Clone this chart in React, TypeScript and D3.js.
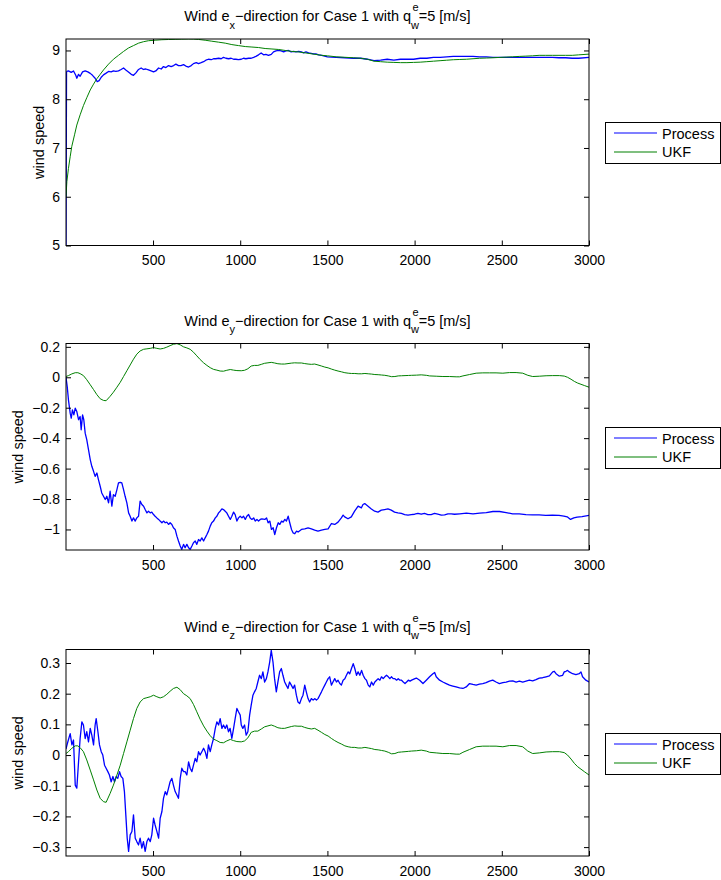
import React, { useEffect, useRef } from 'react';
import * as d3 from 'd3';

const font = 'Liberation Sans, Arial, Helvetica, sans-serif';

// x axis is shared by all three panels
const xDomain = [1, 3000];
const xTicks = [500, 1000, 1500, 2000, 2500, 3000];

const yTicksX = [5, 6, 7, 8, 9];
const yTicksY = [-1, -0.8, -0.6, -0.4, -0.2, 0, 0.2];
const yTicksZ = [-0.3, -0.2, -0.1, 0, 0.1, 0.2, 0.3];

const yDomainX = [5, 9.235];
const yDomainY = [-1.135, 0.222];
const yDomainZ = [-0.329, 0.344];

// [time, wind speed]
const processX = [
  [1, 5], [4, 8.55], [6, 8.57], [15, 8.58], [31, 8.55], [44, 8.58], [57, 8.49], [63, 8.43], [73, 8.51], [82, 8.47],
  [96, 8.56], [111, 8.58], [126, 8.56], [140, 8.53], [153, 8.49], [168, 8.43], [180, 8.36], [191, 8.38], [203, 8.45],
  [216, 8.5], [229, 8.53], [245, 8.57], [260, 8.56], [273, 8.58], [287, 8.57], [302, 8.58], [317, 8.61], [331, 8.64],
  [344, 8.6], [359, 8.56], [375, 8.51], [388, 8.49], [402, 8.54], [417, 8.61], [432, 8.64], [445, 8.61], [459, 8.62],
  [474, 8.6], [489, 8.58], [503, 8.56], [516, 8.58], [532, 8.64], [547, 8.62], [560, 8.67], [574, 8.65], [589, 8.69],
  [604, 8.67], [618, 8.69], [631, 8.72], [646, 8.69], [660, 8.69], [675, 8.71], [688, 8.68], [704, 8.66], [719, 8.69],
  [732, 8.73], [748, 8.75], [761, 8.73], [776, 8.75], [790, 8.77], [803, 8.8], [818, 8.82], [834, 8.81], [847, 8.83],
  [860, 8.83], [876, 8.84], [891, 8.83], [904, 8.86], [918, 8.84], [933, 8.83], [948, 8.84], [962, 8.82], [975, 8.82],
  [990, 8.81], [1006, 8.82], [1019, 8.84], [1032, 8.83], [1048, 8.84], [1063, 8.84], [1077, 8.86], [1090, 8.88],
  [1105, 8.91], [1120, 8.95], [1134, 8.91], [1147, 8.92], [1162, 8.9], [1178, 8.92], [1191, 8.97], [1205, 8.99],
  [1220, 9.0], [1235, 8.99], [1249, 8.97], [1262, 8.99], [1277, 9.0], [1292, 8.97], [1306, 8.98], [1319, 8.97],
  [1335, 8.98], [1350, 8.97], [1363, 8.95], [1377, 8.97], [1392, 8.95], [1407, 8.94], [1421, 8.93], [1434, 8.93],
  [1449, 8.91], [1468, 8.9], [1500, 8.87], [1550, 8.86], [1600, 8.85], [1650, 8.84], [1691, 8.84], [1729, 8.82],
  [1767, 8.79], [1805, 8.8], [1843, 8.82], [1881, 8.8], [1919, 8.82], [1956, 8.82], [1994, 8.82], [2032, 8.84],
  [2070, 8.84], [2108, 8.86], [2146, 8.86], [2184, 8.87], [2222, 8.88], [2259, 8.88], [2297, 8.88], [2335, 8.88],
  [2373, 8.87], [2411, 8.87], [2449, 8.86], [2487, 8.86], [2525, 8.86], [2562, 8.86], [2600, 8.86], [2638, 8.86],
  [2676, 8.86], [2714, 8.86], [2752, 8.86], [2790, 8.86], [2828, 8.85], [2866, 8.85], [2904, 8.84], [2941, 8.84],
  [3000, 8.86],
];

const ukfX = [
  [1, 6.0], [6, 6.31], [15, 6.58], [25, 6.82], [34, 7.03], [50, 7.27], [63, 7.47], [82, 7.68], [101, 7.87], [120, 8.03],
  [140, 8.19], [159, 8.31], [178, 8.42], [197, 8.51], [216, 8.6], [245, 8.72], [273, 8.82], [302, 8.9], [331, 8.98],
  [359, 9.05], [388, 9.1], [417, 9.15], [446, 9.18], [474, 9.2], [512, 9.21], [551, 9.22], [589, 9.225], [627, 9.228],
  [665, 9.232], [704, 9.235], [732, 9.233], [761, 9.226], [799, 9.21], [837, 9.19], [876, 9.17], [914, 9.15],
  [952, 9.12], [990, 9.1], [1029, 9.08], [1067, 9.07], [1105, 9.06], [1143, 9.04], [1182, 9.03], [1220, 9.02],
  [1258, 9.0], [1296, 8.98], [1335, 8.97], [1373, 8.95], [1411, 8.93], [1468, 8.9], [1500, 8.89], [1550, 8.87],
  [1600, 8.86], [1650, 8.85], [1691, 8.84], [1729, 8.82], [1767, 8.78], [1805, 8.77], [1843, 8.76], [1881, 8.755],
  [1919, 8.75], [1956, 8.75], [1994, 8.755], [2032, 8.76], [2070, 8.77], [2108, 8.78], [2146, 8.79], [2184, 8.8],
  [2222, 8.81], [2259, 8.815], [2297, 8.82], [2335, 8.83], [2373, 8.84], [2411, 8.845], [2449, 8.85], [2487, 8.857],
  [2525, 8.864], [2562, 8.87], [2600, 8.878], [2638, 8.884], [2676, 8.89], [2714, 8.9], [2752, 8.9], [2790, 8.9],
  [2828, 8.9], [2866, 8.9], [2904, 8.9], [2941, 8.91], [3000, 8.925],
];

const processY = [
  [1, 0], [8, -0.061], [15, -0.148], [25, -0.236], [31, -0.269], [38, -0.214], [46, -0.247], [54, -0.203], [63, -0.225],
  [73, -0.279], [82, -0.258], [88, -0.345], [96, -0.247], [103, -0.279], [111, -0.367], [120, -0.41], [130, -0.476],
  [140, -0.541], [149, -0.585], [159, -0.618], [168, -0.651], [178, -0.629], [187, -0.672], [197, -0.716], [206, -0.76],
  [216, -0.782], [226, -0.803], [235, -0.782], [245, -0.825], [254, -0.749], [264, -0.847], [273, -0.771], [283, -0.782],
  [293, -0.738], [302, -0.694], [312, -0.69], [321, -0.694], [331, -0.738], [340, -0.782], [350, -0.825], [360, -0.891],
  [369, -0.913], [379, -0.945], [388, -0.924], [398, -0.945], [407, -0.924], [417, -0.913], [426, -0.814], [436, -0.836],
  [446, -0.847], [455, -0.869], [465, -0.891], [474, -0.88], [484, -0.891], [493, -0.886], [503, -0.902], [512, -0.913],
  [522, -0.924], [532, -0.934], [541, -0.945], [551, -0.956], [560, -0.945], [570, -0.956], [579, -0.952], [589, -0.967],
  [598, -0.956], [608, -0.967], [617, -0.989], [627, -1.0], [637, -1.044], [646, -1.076], [656, -1.109], [665, -1.131],
  [675, -1.098], [684, -1.12], [694, -1.098], [704, -1.12], [713, -1.131], [723, -1.109], [732, -1.087], [742, -1.076],
  [751, -1.098], [761, -1.066], [770, -1.076], [780, -1.055], [790, -1.076], [799, -1.055], [809, -1.033], [818, -1.011],
  [828, -0.978], [837, -0.956], [847, -0.945], [857, -0.924], [866, -0.913], [876, -0.891], [885, -0.88], [895, -0.865],
  [904, -0.869], [914, -0.88], [923, -0.891], [933, -0.913], [943, -0.934], [952, -0.913], [962, -0.886], [971, -0.902],
  [981, -0.945], [990, -0.924], [1000, -0.913], [1010, -0.924], [1019, -0.913], [1029, -0.934], [1038, -0.913],
  [1048, -0.902], [1057, -0.924], [1067, -0.934], [1077, -0.924], [1086, -0.945], [1096, -0.934], [1105, -0.945],
  [1115, -0.934], [1124, -0.93], [1141, -0.934], [1151, -0.924], [1160, -0.956], [1170, -0.945], [1179, -1.0],
  [1189, -0.989], [1198, -1.033], [1208, -0.989], [1218, -0.956], [1227, -0.967], [1237, -0.945], [1246, -0.952],
  [1256, -0.934], [1265, -0.945], [1275, -0.913], [1284, -0.956], [1294, -1.0], [1303, -1.022], [1313, -1.028],
  [1323, -1.011], [1332, -1.017], [1351, -1.0], [1370, -0.996], [1389, -0.989], [1408, -0.996], [1427, -1.004],
  [1446, -1.011], [1466, -1.004], [1485, -1.0], [1504, -0.996], [1523, -0.961], [1542, -0.967], [1561, -0.952],
  [1580, -0.924], [1590, -0.906], [1599, -0.917], [1618, -0.93], [1637, -0.917], [1656, -0.88], [1676, -0.847],
  [1695, -0.858], [1704, -0.836], [1714, -0.83], [1733, -0.847], [1752, -0.865], [1771, -0.88], [1790, -0.886],
  [1809, -0.873], [1828, -0.869], [1847, -0.865], [1866, -0.873], [1885, -0.886], [1904, -0.891], [1924, -0.895],
  [1943, -0.902], [1962, -0.906], [1981, -0.902], [2000, -0.9], [2019, -0.895], [2038, -0.9], [2057, -0.895],
  [2076, -0.902], [2095, -0.902], [2114, -0.895], [2133, -0.9], [2153, -0.906], [2172, -0.904], [2191, -0.897],
  [2210, -0.897], [2229, -0.9], [2259, -0.897], [2297, -0.893], [2335, -0.897], [2373, -0.893], [2411, -0.889],
  [2449, -0.882], [2487, -0.882], [2525, -0.889], [2562, -0.897], [2600, -0.897], [2638, -0.902], [2676, -0.904],
  [2714, -0.904], [2752, -0.908], [2790, -0.906], [2828, -0.908], [2856, -0.913], [2875, -0.917], [2894, -0.934],
  [2913, -0.924], [2932, -0.919], [2960, -0.915], [3000, -0.908],
];

const ukfY = [
  [1, 0.005], [15, 0.011], [34, 0.022], [54, 0.03], [69, 0.03], [82, 0.024], [101, 0.011], [120, -0.016], [140, -0.049],
  [159, -0.081], [178, -0.114], [197, -0.141], [216, -0.152], [231, -0.154], [254, -0.125], [273, -0.098], [293, -0.065],
  [312, -0.033], [331, 0.005], [350, 0.043], [369, 0.081], [388, 0.119], [407, 0.152], [426, 0.173], [446, 0.184],
  [465, 0.187], [484, 0.19], [503, 0.195], [522, 0.19], [541, 0.186], [560, 0.19], [579, 0.198], [598, 0.208],
  [617, 0.217], [637, 0.221], [656, 0.213], [675, 0.2], [694, 0.193], [713, 0.184], [732, 0.165], [751, 0.141],
  [770, 0.117], [790, 0.095], [809, 0.078], [828, 0.063], [847, 0.052], [866, 0.047], [885, 0.041], [904, 0.04],
  [923, 0.046], [943, 0.051], [962, 0.047], [981, 0.044], [1006, 0.043], [1025, 0.046], [1044, 0.056], [1063, 0.074],
  [1082, 0.078], [1101, 0.078], [1121, 0.085], [1140, 0.092], [1159, 0.095], [1178, 0.098], [1197, 0.094], [1216, 0.089],
  [1236, 0.087], [1255, 0.087], [1274, 0.09], [1293, 0.093], [1312, 0.095], [1331, 0.094], [1351, 0.094], [1370, 0.09],
  [1389, 0.087], [1408, 0.085], [1427, 0.087], [1446, 0.081], [1466, 0.074], [1485, 0.067], [1504, 0.062], [1523, 0.054],
  [1542, 0.047], [1561, 0.041], [1580, 0.036], [1600, 0.03], [1619, 0.027], [1638, 0.025], [1657, 0.025], [1676, 0.023],
  [1696, 0.023], [1715, 0.025], [1734, 0.023], [1753, 0.021], [1772, 0.018], [1791, 0.017], [1810, 0.015], [1829, 0.013],
  [1849, 0.009], [1868, 0.004], [1887, 0.005], [1906, 0.009], [1925, 0.01], [1945, 0.011], [1964, 0.012], [1983, 0.013],
  [2010, 0.014], [2038, 0.016], [2067, 0.013], [2086, 0.009], [2124, 0.007], [2162, 0.005], [2200, 0.005], [2238, 0.003],
  [2258, 0.003], [2277, 0.009], [2315, 0.018], [2353, 0.027], [2391, 0.029], [2429, 0.029], [2467, 0.029], [2506, 0.027],
  [2544, 0.031], [2582, 0.031], [2620, 0.027], [2649, 0.013], [2677, 0.005], [2715, 0.007], [2754, 0.01], [2792, 0.011],
  [2830, 0.011], [2858, 0.008], [2877, 0], [2897, -0.013], [2916, -0.027], [2935, -0.038], [2954, -0.046], [2973, -0.054],
  [3000, -0.065],
];

const processZ = [
  [1, 0.02], [10, 0.04], [25, 0.07], [35, 0.033], [44, 0.049], [54, -0.098], [63, -0.108], [73, -0.022], [82, 0.054],
  [92, 0.108], [101, 0.098], [111, 0.054], [120, 0.076], [130, 0.043], [140, 0.087], [149, 0.065], [159, 0.033],
  [168, 0.098], [174, 0.119], [184, 0.076], [193, 0.033], [203, 0.011], [212, 0], [222, -0.033], [231, -0.043],
  [241, -0.054], [250, -0.065], [260, -0.087], [270, -0.07], [279, -0.087], [289, -0.07], [298, -0.076], [308, -0.054],
  [317, -0.07], [327, -0.076], [336, -0.119], [344, -0.195], [352, -0.271], [360, -0.314], [369, -0.26], [379, -0.249],
  [388, -0.195], [398, -0.271], [407, -0.282], [417, -0.293], [426, -0.271], [436, -0.303], [445, -0.282], [455, -0.314],
  [465, -0.282], [474, -0.271], [484, -0.282], [493, -0.26], [503, -0.206], [512, -0.228], [522, -0.249], [532, -0.271],
  [541, -0.206], [551, -0.184], [560, -0.141], [570, -0.119], [579, -0.13], [589, -0.108], [598, -0.087], [608, -0.076],
  [617, -0.098], [627, -0.119], [637, -0.13], [646, -0.141], [656, -0.076], [665, -0.043], [675, -0.054], [684, -0.054],
  [694, -0.065], [704, -0.022], [713, -0.043], [723, -0.054], [732, -0.033], [742, -0.011], [751, -0.022], [761, 0.011],
  [770, 0], [780, 0.011], [790, 0.022], [799, 0.011], [809, -0.011], [818, 0.033], [828, 0.011], [837, 0.033],
  [847, 0.054], [857, 0.087], [866, 0.108], [876, 0.098], [885, 0.119], [895, 0.087], [904, 0.098], [914, 0.087],
  [923, 0.098], [933, 0.076], [942, 0.087], [952, 0.054], [962, 0.087], [971, 0.119], [981, 0.152], [990, 0.141],
  [1000, 0.13], [1006, 0.098], [1015, 0.087], [1025, 0.098], [1034, 0.065], [1044, 0.076], [1054, 0.13], [1063, 0.163],
  [1073, 0.195], [1082, 0.206], [1092, 0.217], [1101, 0.238], [1111, 0.26], [1121, 0.249], [1130, 0.271], [1140, 0.238],
  [1150, 0.249], [1159, 0.271], [1169, 0.303], [1178, 0.341], [1188, 0.303], [1197, 0.249], [1207, 0.206], [1216, 0.238],
  [1226, 0.271], [1236, 0.282], [1245, 0.26], [1255, 0.238], [1264, 0.228], [1274, 0.217], [1283, 0.238], [1293, 0.228],
  [1303, 0.217], [1312, 0.228], [1322, 0.195], [1331, 0.173], [1341, 0.168], [1351, 0.184], [1360, 0.195], [1370, 0.228],
  [1379, 0.206], [1389, 0.184], [1398, 0.173], [1408, 0.184], [1418, 0.179], [1427, 0.184], [1437, 0.179], [1446, 0.184],
  [1456, 0.195], [1466, 0.206], [1475, 0.217], [1485, 0.228], [1494, 0.238], [1504, 0.249], [1513, 0.255], [1523, 0.228],
  [1532, 0.238], [1542, 0.249], [1552, 0.238], [1561, 0.244], [1571, 0.233], [1580, 0.228], [1590, 0.244], [1600, 0.249],
  [1609, 0.26], [1619, 0.271], [1628, 0.265], [1638, 0.282], [1648, 0.298], [1657, 0.282], [1667, 0.26], [1676, 0.271],
  [1686, 0.26], [1696, 0.276], [1705, 0.26], [1715, 0.249], [1724, 0.244], [1734, 0.228], [1743, 0.222], [1753, 0.238],
  [1763, 0.228], [1772, 0.238], [1782, 0.244], [1791, 0.249], [1801, 0.244], [1810, 0.255], [1820, 0.249], [1829, 0.255],
  [1839, 0.26], [1849, 0.255], [1858, 0.249], [1868, 0.255], [1877, 0.249], [1887, 0.249], [1897, 0.244], [1906, 0.249],
  [1916, 0.244], [1925, 0.244], [1935, 0.238], [1945, 0.233], [1954, 0.238], [1964, 0.244], [1974, 0.241], [1983, 0.244],
  [2002, 0.249], [2010, 0.251], [2029, 0.244], [2048, 0.233], [2067, 0.244], [2086, 0.255], [2105, 0.265], [2115, 0.269],
  [2124, 0.255], [2143, 0.244], [2162, 0.238], [2181, 0.233], [2200, 0.228], [2219, 0.225], [2238, 0.222], [2258, 0.219],
  [2277, 0.217], [2296, 0.222], [2315, 0.233], [2334, 0.23], [2353, 0.228], [2372, 0.231], [2391, 0.233], [2410, 0.236],
  [2429, 0.241], [2448, 0.244], [2467, 0.238], [2486, 0.233], [2506, 0.236], [2525, 0.238], [2544, 0.241], [2563, 0.242],
  [2582, 0.238], [2601, 0.241], [2620, 0.238], [2639, 0.241], [2658, 0.244], [2677, 0.242], [2696, 0.246], [2715, 0.251],
  [2734, 0.252], [2754, 0.255], [2773, 0.258], [2792, 0.271], [2801, 0.273], [2811, 0.265], [2830, 0.257], [2849, 0.26],
  [2858, 0.271], [2868, 0.273], [2877, 0.276], [2887, 0.271], [2906, 0.265], [2925, 0.262], [2944, 0.265], [2954, 0.271],
  [2963, 0.255], [2982, 0.244], [3000, 0.238],
];

// the UKF estimate in e_z is the same curve as in e_y in the figure
const ukfZ = ukfY;

const left = 66;
const right = 589;
const plotH = 206.5;

const Panel = ({ id, top, comp, yDomain, yTicks, process, ukf, labelX }) => {
  const bottomRef = useRef(null);
  const topRef = useRef(null);
  const leftRef = useRef(null);
  const rightRef = useRef(null);

  const x = d3.scaleLinear().domain(xDomain).range([left, right]);
  const y = d3.scaleLinear().domain(yDomain).range([top + plotH, top]);
  const line = d3.line().x(d => x(d[0])).y(d => y(d[1]));

  useEffect(() => {
    const tidy = g => {
      g.attr('font-size', 14).attr('font-family', font);
      g.select('.domain').remove();
      g.selectAll('line').attr('stroke', '#000');
      g.selectAll('text').attr('fill', '#000');
    };
    d3.select(bottomRef.current)
      .call(d3.axisBottom(x).tickValues(xTicks).tickSizeInner(-5).tickSizeOuter(0).tickPadding(10).tickFormat(d3.format('d')))
      .call(tidy);
    d3.select(topRef.current)
      .call(d3.axisTop(x).tickValues(xTicks).tickSizeInner(-5).tickSizeOuter(0).tickFormat(() => ''))
      .call(tidy);
    d3.select(leftRef.current)
      .call(d3.axisLeft(y).tickValues(yTicks).tickSizeInner(-5).tickSizeOuter(0).tickPadding(6).tickFormat(d3.format('~g')))
      .call(tidy);
    d3.select(rightRef.current)
      .call(d3.axisRight(y).tickValues(yTicks).tickSizeInner(-5).tickSizeOuter(0).tickFormat(() => ''))
      .call(tidy);
  }, []);

  const legTop = Math.round(top + 83);

  return (
    <g>
      <defs>
        <clipPath id={id}>
          <rect x={left} y={top} width={right - left} height={plotH} />
        </clipPath>
      </defs>
      <text x={(left + right) / 2} y={top - 18} textAnchor="middle" fontSize={14.5} fontFamily={font} fill="#000">
        Wind e<tspan dy={7.5} fontSize={11}>{comp}</tspan>
        <tspan dy={-7.5}>−direction for Case 1 with q</tspan>
        <tspan dy={7.5} fontSize={11}>w</tspan>
        <tspan dx={-6.5} dy={-17.5} fontSize={11}>e</tspan>
        <tspan dy={10}>=5 [m/s]</tspan>
      </text>
      <g clipPath={`url(#${id})`}>
        <path d={line(process)} fill="none" stroke="#0000ff" strokeWidth={1.3} strokeLinejoin="round" />
        <path d={line(ukf)} fill="none" stroke="#008000" strokeWidth={1} />
      </g>
      <g ref={bottomRef} transform={`translate(0,${top + plotH})`} />
      <g ref={topRef} transform={`translate(0,${top})`} />
      <g ref={leftRef} transform={`translate(${left},0)`} />
      <g ref={rightRef} transform={`translate(${right},0)`} />
      <rect x={left} y={top} width={right - left} height={plotH} fill="none" stroke="#000" strokeWidth={1} />
      <text
        transform={`translate(${labelX},${top + plotH / 2}) rotate(-90)`}
        textAnchor="middle" fontSize={14.5} fontFamily={font} fill="#000"
      >
        wind speed
      </text>
      <rect x={605.5} y={legTop + 0.5} width={115} height={41} fill="#fff" stroke="#000" strokeWidth={1} />
      <line x1={614} x2={657} y1={legTop + 11} y2={legTop + 11} stroke="#0000ff" strokeWidth={1.2} />
      <line x1={614} x2={657} y1={legTop + 30} y2={legTop + 30} stroke="#008000" strokeWidth={1.2} />
      <text x={662} y={legTop + 16.5} fontSize={14.5} fontFamily={font} fill="#000">Process</text>
      <text x={662} y={legTop + 35} fontSize={14.5} fontFamily={font} fill="#000">UKF</text>
    </g>
  );
};

const App = () => (
  <svg width={721} height={880} style={{ position: 'absolute', left: 0, top: 0, background: '#fff' }}>
    <Panel id="cx" top={39} comp="x" yDomain={yDomainX} yTicks={yTicksX} process={processX} ukf={ukfX} labelX={44} />
    <Panel id="cy" top={343.5} comp="y" yDomain={yDomainY} yTicks={yTicksY} process={processY} ukf={ukfY} labelX={22.5} />
    <Panel id="cz" top={649.5} comp="z" yDomain={yDomainZ} yTicks={yTicksZ} process={processZ} ukf={ukfZ} labelX={22.5} />
  </svg>
);

export default App;
